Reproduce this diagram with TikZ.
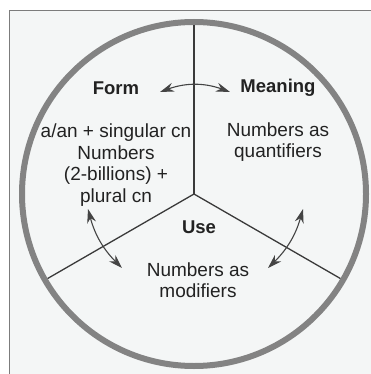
\documentclass[tikz,border=0pt]{standalone}
\usepackage{fontspec}
\setmainfont{Liberation Sans}
\usetikzlibrary{arrows.meta}
\definecolor{paper}{HTML}{F4F6F6}
\definecolor{rim}{HTML}{838383}
\definecolor{spoke}{HTML}{3A3A3A}
\definecolor{ink}{HTML}{222222}
\definecolor{arrowgray}{HTML}{444444}
\begin{document}
\begin{tikzpicture}[x=1pt, y=-1pt,
    head/.style={font=\fontsize{18.5}{21}\selectfont\bfseries, text=ink},
    body/.style={align=center, font=\fontsize{19}{21.5}\selectfont, text=ink},
    arr/.style={{Stealth[length=14pt,width=9pt]}-{Stealth[length=14pt,width=9pt]}, line width=1.1pt, arrowgray}
]
\useasboundingbox (0,0) rectangle (371,374);
\fill[paper] (10,11) rectangle (371,374);
\draw[rim!95!black, line width=1.3pt] (371,10.5) -- (9.5,10.5) -- (9.5,374);

\coordinate (c) at (194,194);
\draw[rim, line width=6pt] (c) circle[radius=172];
\draw[spoke, line width=1.3pt] (c) -- ++(-90:169);
\draw[spoke, line width=1.3pt] (c) -- ++(150:169);
\draw[spoke, line width=1.3pt] (c) -- ++(30:169);

\node[head] (form) at (116,88) {Form};
\node[head] (meaning) at (278,88) {Meaning};
\node[head] (use) at (199,227) {Use};
\node[body] (formtxt) at (116,165) {a/an + singular cn\\Numbers\\(2-billions) +\\plural cn};
\node[body] (meantxt) at (278,142) {Numbers as\\quantifiers};
\node[body] (usetxt) at (198,280) {Numbers as\\modifiers};

\coordinate (fm1) at (160,92);
\coordinate (fm2) at (230,92);
\coordinate (fu1) at (88,209);
\coordinate (fu2) at (122,268);
\coordinate (mu1) at (303,209);
\coordinate (mu2) at (268,268);
\draw[arr] (fm1) to[bend left=20] (fm2);
\draw[arr] (fu1) to[bend right=15] (fu2);
\draw[arr] (mu1) to[bend left=15] (mu2);
\end{tikzpicture}
\end{document}
